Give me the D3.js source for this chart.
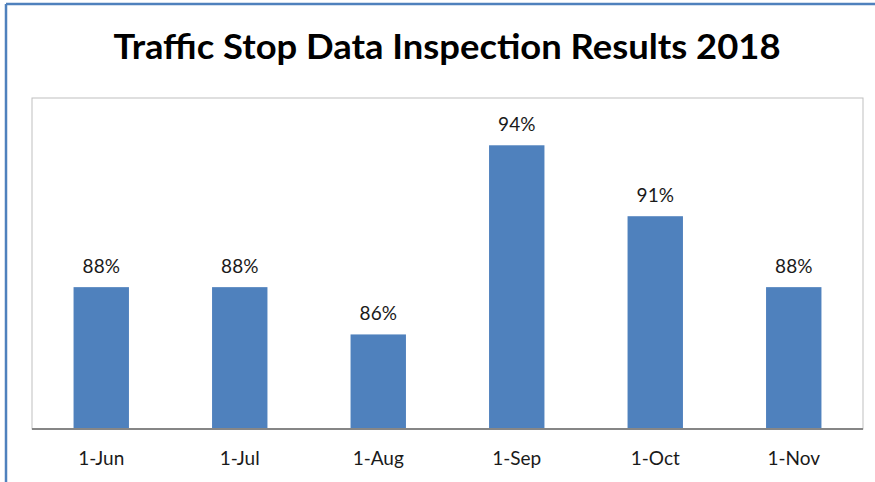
<!DOCTYPE html>
<html>
<head>
<meta charset="utf-8">
<script src="https://cdn.jsdelivr.net/npm/d3@7"></script>
<style>
  body { margin: 0; background: #fff; }
  svg { display: block; }
</style>
</head>
<body>
<svg id="chart" width="875" height="482"></svg>
<script>
const categories = ['1-Jun', '1-Jul', '1-Aug', '1-Sep', '1-Oct', '1-Nov'];
const values = [88, 88, 86, 94, 91, 88];
const yDomain = [82, 96];

const svg = d3.select('#chart');

// outer frame (only top and left edges visible)
svg.append('line')
    .attr('x1', 6).attr('y1', 4).attr('x2', 875).attr('y2', 4)
    .attr('stroke', '#4f81bd').attr('stroke-width', 2.5);
svg.append('line')
    .attr('x1', 6).attr('y1', 4).attr('x2', 6).attr('y2', 482)
    .attr('stroke', '#4f81bd').attr('stroke-width', 2.5);

svg.append('text')
    .attr('x', 447).attr('y', 59)
    .attr('text-anchor', 'middle')
    .attr('font-family', 'Lato, "Open Sans", sans-serif')
    .attr('font-weight', 'bold')
    .attr('font-size', 34)
    .attr('textLength', 667)
    .attr('lengthAdjust', 'spacingAndGlyphs')
    .attr('fill', '#000')
    .text('Traffic Stop Data Inspection Results 2018');

const plot = { left: 32, right: 863, top: 98, bottom: 429 };

var xScale = d3.scaleBand(categories, [plot.left, plot.right]).paddingInner(0.6).paddingOuter(0.3);
var yScale = d3.scaleLinear(yDomain, [plot.bottom, plot.top]);

svg.append('rect')
    .attr('x', plot.left).attr('y', plot.top)
    .attr('width', plot.right - plot.left).attr('height', plot.bottom - plot.top)
    .attr('fill', 'none').attr('stroke', '#bfbfbf').attr('stroke-width', 1);

svg.append('g')
    .selectAll('rect')
    .data(values)
    .enter()
    .append('rect')
    .attr('x', (d, i) => xScale(categories[i]))
    .attr('y', d => yScale(d))
    .attr('width', xScale.bandwidth())
    .attr('height', d => plot.bottom - yScale(d))
    .attr('fill', '#4f81bd');

svg.append('g')
    .selectAll('text')
    .data(values)
    .enter()
    .append('text')
    .attr('x', (d, i) => xScale(categories[i]) + xScale.bandwidth() / 2)
    .attr('y', d => yScale(d) - 14)
    .attr('text-anchor', 'middle')
    .attr('font-family', 'Lato, "Open Sans", sans-serif')
    .attr('font-size', 19)
    .attr('fill', '#1a1a1a')
    .text(d => d + '%');

var xAxis = svg.append('g')
    .attr('transform', `translate(0,${plot.bottom})`)
    .call(d3.axisBottom(xScale).tickSize(0).tickPadding(23));
xAxis.select('.domain').attr('stroke', '#868686').attr('stroke-width', 2)
    .attr('d', `M${plot.left},0H${plot.right}`);
xAxis.selectAll('text')
    .attr('font-family', 'Lato, "Open Sans", sans-serif')
    .attr('font-size', 19)
    .attr('fill', '#1a1a1a');
</script>
</body>
</html>
